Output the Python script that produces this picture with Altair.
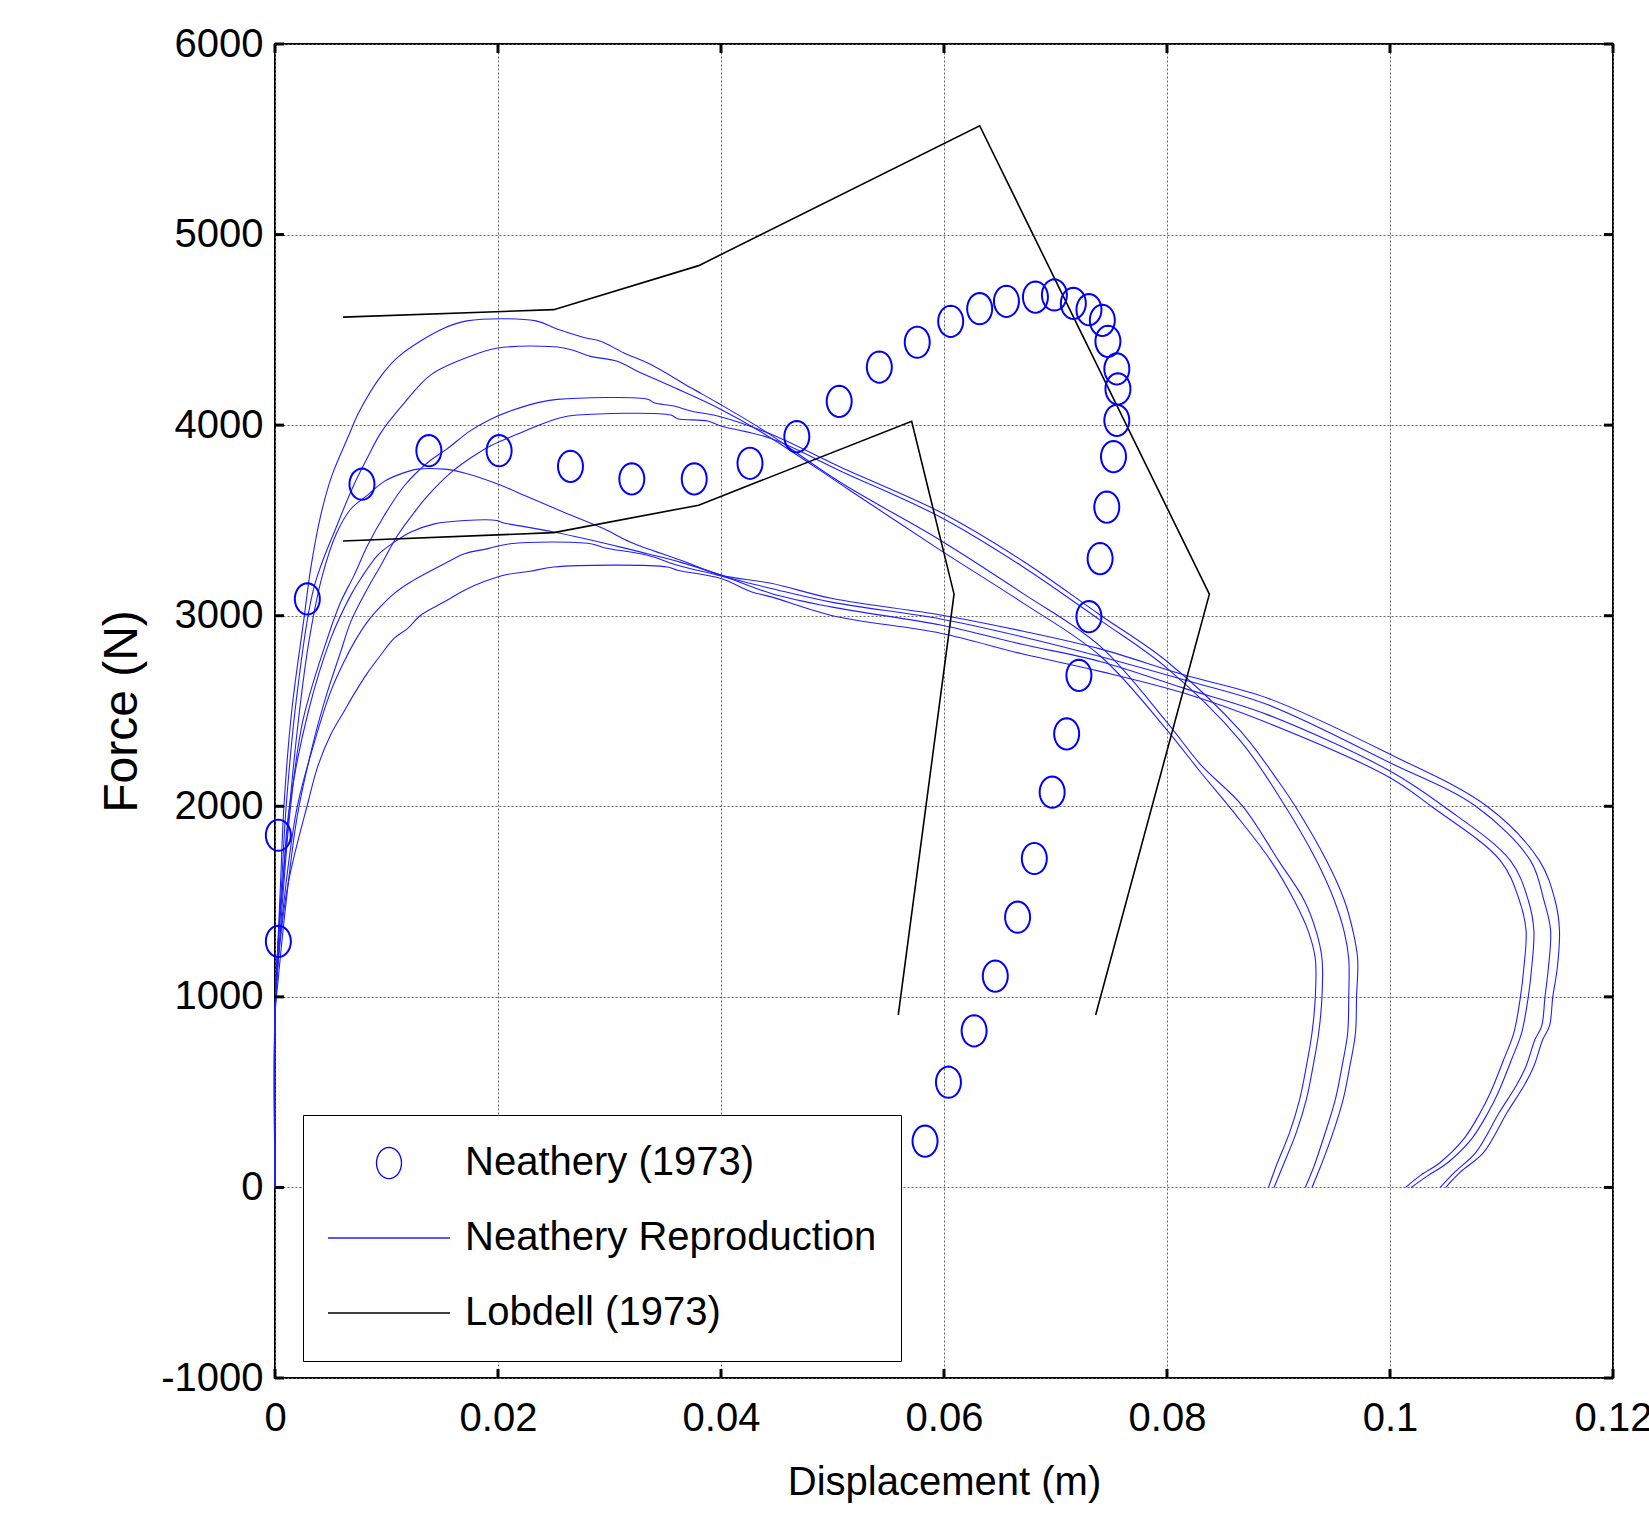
import altair as alt
import numpy as np
import pandas as pd

# ---------------- data ----------------
SERIES = ["Neathery (1973)", "Neathery Reproduction", "Lobdell (1973)"]

NEATHERY_X = [0.0003, 0.0003, 0.0029, 0.0078, 0.0138, 0.0201, 0.0265, 0.0320, 0.0376,
              0.0426, 0.0468, 0.0506, 0.0542, 0.0576, 0.0606, 0.0632, 0.0656, 0.0682,
              0.0699, 0.0716, 0.0730, 0.0742, 0.0747, 0.0755, 0.0756, 0.0755, 0.0752,
              0.0746, 0.0740, 0.0730, 0.0721, 0.0710, 0.0697, 0.0681, 0.0666, 0.0646,
              0.0627, 0.0604, 0.0583]
NEATHERY_Y = [1291, 1848, 3088, 3690, 3866, 3866, 3784, 3718, 3718,
              3800, 3940, 4125, 4305, 4435, 4545, 4611, 4650, 4672,
              4683, 4639, 4606, 4550, 4440, 4295, 4190, 4025, 3835,
              3570, 3300, 2995, 2687, 2380, 2074, 1726, 1418, 1109,
              822, 552, 243]

LOB_UPPER_X = [0.0061, 0.0250, 0.0380, 0.0632, 0.0838, 0.0736]
LOB_UPPER_Y = [4567, 4606, 4837, 5571, 3113, 905]
LOB_LOWER_X = [0.0061, 0.0250, 0.0380, 0.0571, 0.0609, 0.0559]
LOB_LOWER_Y = [3392, 3436, 3580, 4020, 3113, 905]

U1_X = [0, 0, 0.0002, 0.0005, 0.0008, 0.0015, 0.0026, 0.0032, 0.0041, 0.0051, 0.0066, 0.0075,
        0.0095, 0.0111, 0.0150, 0.0172, 0.0234, 0.0253, 0.0277, 0.0292, 0.0313, 0.0337, 0.0373,
        0.0397, 0.0439, 0.0507, 0.0597, 0.0670, 0.0740, 0.0800, 0.0830, 0.0868, 0.0900, 0.0923,
        0.0934, 0.0939, 0.0939, 0.0936, 0.0931, 0.0925, 0.0916, 0.0904, 0.0896]
U1_Y = [0, 900, 1200, 1600, 2000, 2500, 2986, 3247, 3527, 3735, 3944, 4065,
        4257, 4361, 4504, 4547, 4547, 4504, 4460, 4440, 4379, 4318, 4196,
        4117, 3970, 3700, 3395, 3120, 2840, 2440, 2220, 2000, 1715, 1507,
        1340, 1200, 1000, 809, 636, 462, 289, 114, 0]

U2_X = [0, 0, 0.0002, 0.0006, 0.0010, 0.0020, 0.0035, 0.0056, 0.0071, 0.0083, 0.0095, 0.0116,
        0.0140, 0.0175, 0.0200, 0.0259, 0.0283, 0.0307, 0.0325, 0.0355, 0.0394, 0.0440, 0.0515,
        0.0597, 0.0670, 0.0740, 0.0800, 0.0830, 0.0861, 0.0893, 0.0914, 0.0927, 0.0933, 0.0933,
        0.0930, 0.0925, 0.0919, 0.0910, 0.0898, 0.0891]
U2_Y = [0, 900, 1200, 1600, 2000, 2600, 3150, 3480, 3690, 3830, 3961, 4117,
        4265, 4361, 4405, 4405, 4361, 4335, 4283, 4205, 4100, 3950, 3660,
        3343, 3070, 2790, 2400, 2180, 1960, 1715, 1507, 1340, 1200, 1000,
        809, 636, 462, 289, 114, 0]

U3_X = [0, 0, 0.0003, 0.0008, 0.0014, 0.0025, 0.0048, 0.0059, 0.0071, 0.0083, 0.0098, 0.0116,
        0.0137, 0.0154, 0.0175, 0.0193, 0.0211, 0.0235, 0.0253, 0.0335, 0.0340, 0.0358, 0.0373,
        0.0397, 0.0445, 0.0507, 0.0597, 0.0670, 0.0740, 0.0800, 0.0866, 0.0900, 0.0915, 0.0943,
        0.0959, 0.0967, 0.0971, 0.0970, 0.0969, 0.0964, 0.0958, 0.0949, 0.0938, 0.0930]
U3_Y = [0, 900, 1200, 1600, 2000, 2450, 2899, 3073, 3213, 3369, 3526, 3682,
        3804, 3874, 3970, 4030, 4074, 4117, 4135, 4135, 4117, 4100, 4074,
        4048, 3952, 3780, 3543, 3290, 3004, 2760, 2394, 2130, 2000, 1715,
        1507, 1340, 1200, 1000, 809, 636, 462, 289, 114, 0]

U4_X = [0, 0, 0.0003, 0.0010, 0.0020, 0.0035, 0.0047, 0.0059, 0.0068, 0.0083, 0.0095, 0.0110,
        0.0125, 0.0137, 0.0158, 0.0176, 0.0193, 0.0217, 0.0235, 0.0256, 0.0271, 0.0355, 0.0361,
        0.0388, 0.0400, 0.0445, 0.0507, 0.0597, 0.0670, 0.0740, 0.0800, 0.0866, 0.0906, 0.0934,
        0.0950, 0.0959, 0.0963, 0.0963, 0.0962, 0.0957, 0.0951, 0.0942, 0.0932, 0.0924]
U4_Y = [0, 900, 1100, 1500, 1950, 2350, 2600, 2812, 2969, 3143, 3265, 3422,
        3543, 3630, 3752, 3830, 3891, 3952, 3996, 4039, 4053, 4053, 4034,
        4022, 3996, 3930, 3760, 3517, 3260, 2977, 2725, 2342, 2000, 1715,
        1507, 1340, 1200, 1000, 809, 636, 462, 289, 114, 0]

L1_X = [0, 0, 0.0003, 0.0010, 0.0020, 0.0030, 0.0042, 0.0055, 0.0068, 0.0083, 0.0098, 0.0114,
        0.0128, 0.0152, 0.0170, 0.0202, 0.0226, 0.0259, 0.0295, 0.0319, 0.0364, 0.0400, 0.0445,
        0.0500, 0.0597, 0.0670, 0.0740, 0.0815, 0.0890, 0.1000, 0.1087, 0.1134, 0.1148, 0.1152,
        0.1150, 0.1146, 0.1143, 0.1137, 0.1129, 0.1120, 0.1105, 0.1084, 0.1063, 0.1050]
L1_Y = [0, 900, 1300, 1800, 2400, 2850, 3200, 3430, 3560, 3633, 3705, 3747,
        3769, 3769, 3749, 3686, 3625, 3543, 3456, 3386, 3291, 3213, 3170,
        3090, 3004, 2920, 2826, 2690, 2568, 2273, 2000, 1715, 1507, 1350,
        1150, 1000, 846, 776, 636, 532, 393, 184, 80, 0]

L2_X = [0, 0, 0.0002, 0.0007, 0.0013, 0.0030, 0.0050, 0.0068, 0.0077, 0.0092, 0.0107, 0.0122,
        0.0143, 0.0170, 0.0199, 0.0205, 0.0226, 0.0250, 0.0310, 0.0334, 0.0364, 0.0400, 0.0445,
        0.0500, 0.0597, 0.0670, 0.0740, 0.0815, 0.0890, 0.1000, 0.1048, 0.1108, 0.1124, 0.1129,
        0.1127, 0.1124, 0.1118, 0.1109, 0.1097, 0.1088, 0.1073, 0.1052, 0.1034, 0.1019]
L2_Y = [0, 900, 1200, 1600, 2000, 2500, 2880, 3108, 3195, 3317, 3386, 3439,
        3482, 3500, 3500, 3487, 3465, 3439, 3360, 3325, 3280, 3213, 3117,
        3045, 2951, 2850, 2760, 2620, 2481, 2185, 2000, 1715, 1507, 1350,
        1150, 1000, 810, 671, 497, 393, 253, 131, 62, 0]

L3_X = [0, 0, 0.0003, 0.0010, 0.0020, 0.0035, 0.0050, 0.0062, 0.0071, 0.0083, 0.0095, 0.0107,
        0.0122, 0.0152, 0.0170, 0.0191, 0.0211, 0.0283, 0.0295, 0.0334, 0.0361, 0.0397, 0.0445,
        0.0500, 0.0597, 0.0670, 0.0740, 0.0815, 0.0890, 0.1000, 0.1077, 0.1126, 0.1138, 0.1144,
        0.1142, 0.1139, 0.1136, 0.1130, 0.1122, 0.1113, 0.1098, 0.1077, 0.1058, 0.1045]
L3_Y = [0, 900, 1200, 1600, 2000, 2330, 2603, 2760, 2860, 2969, 3050, 3117,
        3178, 3273, 3325, 3352, 3378, 3378, 3357, 3317, 3265, 3213, 3143,
        3070, 2983, 2890, 2786, 2664, 2534, 2229, 2000, 1715, 1507, 1350,
        1150, 1000, 846, 776, 636, 532, 393, 184, 80, 0]

L4_X = [0, 0, 0.0003, 0.0012, 0.0030, 0.0038, 0.0050, 0.0062, 0.0071, 0.0083, 0.0095, 0.0107,
        0.0119, 0.0131, 0.0152, 0.0170, 0.0187, 0.0208, 0.0229, 0.0250, 0.0352, 0.0361, 0.0400,
        0.0427, 0.0445, 0.0500, 0.0597, 0.0670, 0.0740, 0.0815, 0.0890, 0.1000, 0.1037, 0.1099,
        0.1116, 0.1122, 0.1120, 0.1117, 0.1111, 0.1102, 0.1090, 0.1081, 0.1066, 0.1045, 0.1027,
        0.1014]
L4_Y = [0, 900, 1200, 1600, 2029, 2203, 2377, 2499, 2590, 2700, 2795, 2882,
        2934, 3004, 3073, 3134, 3178, 3216, 3233, 3256, 3256, 3239, 3195,
        3126, 3099, 3000, 2908, 2800, 2708, 2594, 2438, 2150, 2000, 1715,
        1507, 1350, 1150, 1000, 810, 671, 497, 393, 253, 131, 62,
        0]

X_TICKS = [0, 0.02, 0.04, 0.06, 0.08, 0.1, 0.12]
Y_TICKS = [-1000, 0, 1000, 2000, 3000, 4000, 5000, 6000]

# ---------------- tables ----------------
REPRO = [(U1_X, U1_Y), (U2_X, U2_Y), (U3_X, U3_Y), (U4_X, U4_Y),
         (L1_X, L1_Y), (L2_X, L2_Y), (L3_X, L3_Y), (L4_X, L4_Y)]
LOB = [(LOB_UPPER_X, LOB_UPPER_Y), (LOB_LOWER_X, LOB_LOWER_Y)]


def curves_frame(curves, series, prefix):
    rows = []
    for cid, (xs, ys) in enumerate(curves):
        for i, (a, b) in enumerate(zip(xs, ys)):
            rows.append({"x": a, "y": b, "series": series, "curve": f"{prefix}{cid}", "idx": i})
    return pd.DataFrame(rows)


pts_df = pd.DataFrame({"x": NEATHERY_X, "y": NEATHERY_Y, "series": SERIES[0]})
repro_df = curves_frame(REPRO, SERIES[1], "r")
lob_df = curves_frame(LOB, SERIES[2], "l")
xt_df = pd.DataFrame({"x": X_TICKS})
yt_df = pd.DataFrame({"y": Y_TICKS})

# ---------------- styling ----------------
W, H = 1338, 1334
FONT = "Liberation Sans, Arial, Helvetica, sans-serif"
FS = 40
SYM = 14884  # legend/point symbol size (line length 122 px)

ang = np.linspace(0, 2 * np.pi, 37)[:-1]
ELLIPSE = "M" + " L".join(f"{0.205 * np.sin(a):.4f},{-0.256 * np.cos(a):.4f}" for a in ang) + " Z"

xscale = alt.Scale(domain=[0, 0.12], nice=False, zero=False)
yscale = alt.Scale(domain=[-1000, 6000], nice=False, zero=False)

xaxis = alt.Axis(values=X_TICKS, labelExpr="'' + datum.value", title="Displacement (m)",
                 grid=True, ticks=False, domain=False, labelFlush=False, labelOverlap=False,
                 labelFont=FONT, labelFontSize=FS, labelPadding=20, labelColor="black",
                 titleFont=FONT, titleFontSize=FS, titleFontWeight="normal",
                 titlePadding=24, titleColor="black",
                 gridColor="#666666", gridDash=[2, 2], gridWidth=1)
yaxis = alt.Axis(values=Y_TICKS, labelExpr="'' + datum.value", title="Force (N)",
                 grid=True, ticks=False, domain=False, labelFlush=False, labelOverlap=False,
                 labelFont=FONT, labelFontSize=FS, labelPadding=12, labelColor="black",
                 titleFont=FONT, titleFontSize=48, titleFontWeight="normal",
                 titlePadding=14, titleColor="black",
                 gridColor="#666666", gridDash=[2, 2], gridWidth=1)

legend = alt.Legend(title=None, orient="none", legendX=28, legendY=1071, direction="vertical",
                    symbolSize=SYM, symbolStrokeWidth=1.3, clipHeight=48, rowPadding=27,
                    padding=24, labelOffset=14, labelFont=FONT, labelFontSize=FS,
                    labelColor="black", strokeColor="black", fillColor="white",
                    cornerRadius=0, labelLimit=1000)

color_scale = alt.Scale(domain=SERIES, range=["#0000ff", "#1f1fff", "#000000"])
shape_scale = alt.Scale(domain=SERIES, range=[ELLIPSE, "stroke", "stroke"])

X = alt.X("x:Q", scale=xscale, axis=xaxis)
Y = alt.Y("y:Q", scale=yscale, axis=yaxis)
C = alt.Color("series:N", scale=color_scale, legend=legend)

repro = alt.Chart(repro_df).mark_line(strokeWidth=1.1, interpolate="catmull-rom").encode(
    x=X, y=Y, color=C, detail="curve:N", order="idx:Q")
lob = alt.Chart(lob_df).mark_line(strokeWidth=1.6).encode(
    x=X, y=Y, color=C, detail="curve:N", order="idx:Q")
points = alt.Chart(pts_df).mark_point(filled=False, size=SYM, strokeWidth=2, opacity=1).encode(
    x=X, y=Y, color=C, shape=alt.Shape("series:N", scale=shape_scale, legend=legend))

tick_l = alt.Chart(yt_df).mark_rule(color="black", strokeWidth=3).encode(
    y=Y, x=alt.value(0), x2=alt.value(9))
tick_r = alt.Chart(yt_df).mark_rule(color="black", strokeWidth=3).encode(
    y=Y, x=alt.value(W - 9), x2=alt.value(W))
tick_b = alt.Chart(xt_df).mark_rule(color="black", strokeWidth=3).encode(
    x=X, y=alt.value(H - 9), y2=alt.value(H))
tick_t = alt.Chart(xt_df).mark_rule(color="black", strokeWidth=3).encode(
    x=X, y=alt.value(0), y2=alt.value(9))

chart = alt.layer(repro, lob, points, tick_l, tick_r, tick_b, tick_t).properties(
    width=W, height=H,
    autosize=alt.AutoSizeParams(type="none"),
    padding={"left": 275, "top": 44, "right": 36, "bottom": 135},
    background="white",
).configure_view(stroke="black", strokeWidth=2)

chart.save("out.html", embed_options={"renderer": "svg", "actions": False})
